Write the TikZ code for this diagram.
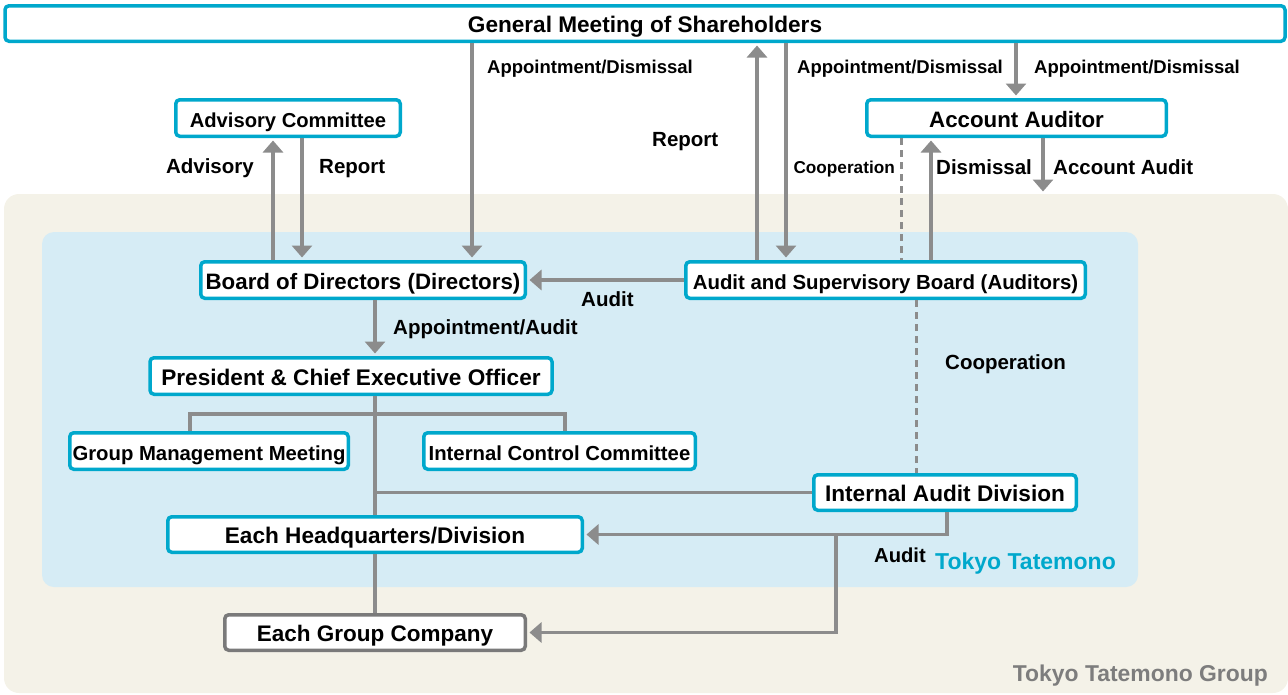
\documentclass[tikz,border=0pt]{standalone}
\usepackage{fontspec}
\setmainfont{Liberation Sans}
\usetikzlibrary{arrows.meta}
\definecolor{cyanb}{HTML}{00A8CC}
\definecolor{arrgray}{HTML}{8C8C8C}
\definecolor{boxgray}{HTML}{7A7A7A}
\definecolor{beige}{HTML}{F4F2E8}
\definecolor{lblue}{HTML}{D6ECF5}
\definecolor{tgray}{HTML}{7D7D7D}
\newcommand\fsz[1]{\fontsize{#1}{#1}\selectfont}
\tikzset{
  box/.style={draw=cyanb, line width=3.5pt, fill=white, rounded corners=4pt, inner sep=0pt, align=center, text height=18.6pt, text depth=0pt},
  arr/.style={draw=arrgray, line width=3.5pt, -{Triangle[width=20pt,length=12pt]}, shorten >=2.5pt},
  ln/.style={draw=arrgray, line width=3.5pt},
  dashln/.style={draw=arrgray, line width=3pt, dash pattern=on 7pt off 5pt},
  lbl/.style={inner sep=0pt, font=\bfseries\fsz{20.5}, anchor=base west},
}
\begin{document}
\begin{tikzpicture}[x=1pt,y=-1pt]
\useasboundingbox (0,0) rectangle (1288,694);
% backgrounds
\fill[beige, rounded corners=15pt] (4,194) rectangle (1288,693);
\fill[lblue, rounded corners=12pt] (42,232) rectangle (1138,587);
% nodes
\node[box, minimum width=1280pt, minimum height=35.5pt, font=\bfseries\fsz{22.6}] (gms) at (645,23.5) {General Meeting of Shareholders};
\node[box, minimum width=224.5pt, minimum height=36.5pt, font=\bfseries\fsz{20.2}] (adv) at (288,118) {Advisory Committee};
\node[box, minimum width=299.5pt, minimum height=36.5pt, font=\bfseries\fsz{22.3}] (aa) at (1016.5,118) {Account Auditor};
\node[box, minimum width=324.5pt, minimum height=36.5pt, font=\bfseries\fsz{22.3}] (bod) at (363,280) {Board of Directors (Directors)};
\node[box, minimum width=399.5pt, minimum height=36.5pt, font=\bfseries\fsz{20.4}] (asb) at (885.5,280) {Audit and Supervisory Board (Auditors)};
\node[box, minimum width=402pt, minimum height=36.5pt, font=\bfseries\fsz{22.6}] (pceo) at (351,376) {President \& Chief Executive Officer};
\node[box, minimum width=278.5pt, minimum height=36.5pt, font=\bfseries\fsz{20.3}] (gmm) at (209,451) {Group Management Meeting};
\node[box, minimum width=271.5pt, minimum height=36.5pt, font=\bfseries\fsz{20.3}] (icc) at (559.5,451) {Internal Control Committee};
\node[box, minimum width=262.5pt, minimum height=35.5pt, font=\bfseries\fsz{22.6}] (iad) at (945,492.5) {Internal Audit Division};
\node[box, minimum width=414.5pt, minimum height=35.5pt, font=\bfseries\fsz{22.6}] (hq) at (375,534.5) {Each Headquarters/Division};
\node[box, draw=boxgray, minimum width=300.5pt, minimum height=35.5pt, font=\bfseries\fsz{22.5}] (egc) at (375,632.5) {Each Group Company};
\coordinate (aaend) at (1043,194);
% connectors
\draw[arr] (gms.south -| 472,0) -- (bod.north -| 472,0);
\draw[arr] (asb.north -| 757,0) -- (gms.south -| 757,0);
\draw[arr] (gms.south -| 786,0) -- (asb.north -| 786,0);
\draw[arr] (gms.south -| 1016,0) -- (aa.north -| 1016,0);
\draw[dashln] (aa.south -| 901,0) -- (asb.north -| 901,0);
\draw[arr] (asb.north -| 931,0) -- (aa.south -| 931,0);
\draw[arr] (aa.south -| aaend) -- (aaend);
\draw[arr] (bod.north -| 273,0) -- (adv.south -| 273,0);
\draw[arr] (adv.south -| 302,0) -- (bod.north -| 302,0);
\draw[arr] (asb.west) -- (bod.east);
\draw[arr] (bod.south -| 375,0) -- (pceo.north -| 375,0);
\draw[ln] (pceo.south -| 375,0) -- (hq.north -| 375,0);
\draw[ln] (gmm.north -| 190,0) -- (190,414) -- (565,414) -- (icc.north -| 565,0);
\draw[ln] (iad.west) -- (iad.west -| 375,0);
\draw[arr] (iad.south -| 947,0) |- (hq.east);
\draw[arr] (hq.east -| 836,0) |- (egc.east);
\draw[ln] (hq.south) -- (egc.north);
\draw[dashln] (asb.south -| 916,0) -- (iad.north -| 916,0);
% labels
\node[lbl, font=\bfseries\fsz{18.5}] (l1) at (487,73) {Appointment/Dismissal};
\node[lbl, font=\bfseries\fsz{18.5}] (l2) at (797,73) {Appointment/Dismissal};
\node[lbl, font=\bfseries\fsz{18.5}] (l3) at (1034,73) {Appointment/Dismissal};
\node[lbl] (l4) at (652,146) {Report};
\node[lbl, anchor=base east, font=\bfseries\fsz{17.2}] (l5) at (895,173) {Cooperation};
\node[lbl] (l6) at (936,174) {Dismissal};
\node[lbl] (l7) at (1053,174) {Account Audit};
\node[lbl, anchor=base east] (l8) at (254,173) {Advisory};
\node[lbl] (l9) at (319,173) {Report};
\node[lbl] (l10) at (581,306) {Audit};
\node[lbl] (l11) at (393,334) {Appointment/Audit};
\node[lbl] (l12) at (945,369) {Cooperation};
\node[lbl, font=\bfseries\fsz{20.2}] (l13) at (874,562) {Audit};
\node[lbl, anchor=base east, font=\bfseries\fsz{23}, text=cyanb] (l14) at (1116,569.5) {Tokyo Tatemono};
\node[lbl, anchor=base east, font=\bfseries\fsz{22.9}, text=tgray] (l15) at (1268,681) {Tokyo Tatemono Group};
\end{tikzpicture}
\end{document}
